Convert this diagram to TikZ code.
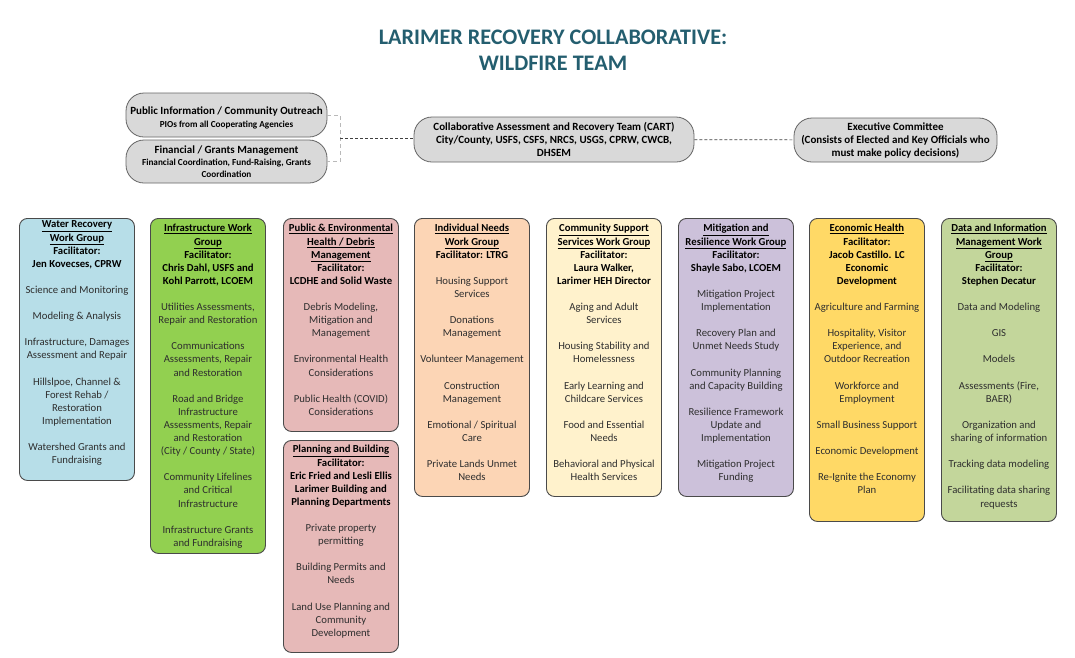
\documentclass[tikz,border=0pt]{standalone}
\usepackage{fontspec}
\setmainfont{Carlito}
\usetikzlibrary{positioning, calc}

\definecolor{titleteal}{HTML}{245E6F}
\definecolor{edgegrey}{HTML}{4A4A4A}
\definecolor{bodygrey}{HTML}{2E2E2E}
\definecolor{topfill}{HTML}{D9D9D9}
\definecolor{waterblue}{HTML}{B7DEE8}
\definecolor{infragreen}{HTML}{92D050}
\definecolor{healthpink}{HTML}{E6B9B8}
\definecolor{needspeach}{HTML}{FCD5B5}
\definecolor{supportcream}{HTML}{FFF2CC}
\definecolor{mitiglilac}{HTML}{CCC1DA}
\definecolor{econyellow}{HTML}{FFD966}
\definecolor{dataolive}{HTML}{C3D69B}

% box height, top offset of first line, contents
\newcommand{\grouptext}[3]{\parbox[t][#1][t]{115pt}{\centering\fontsize{10.7}{13.1}\selectfont\rule{0pt}{#2}#3}}
\newcommand{\lead}[1]{{\color{black}\bfseries #1}}

\begin{document}
\begin{tikzpicture}[x=1pt, y=-1pt, font=\fontsize{10.7}{13.1}\selectfont]
  % Styles
  \tikzset{
    topbox/.style={draw=edgegrey!85, line width=0.8pt, fill=topfill, rounded corners=18pt, align=center, inner sep=2pt, font=\fontsize{11}{13}\selectfont\bfseries},
    wgbox/.style={draw=edgegrey, line width=0.9pt, rounded corners=8pt, inner sep=0pt, anchor=north west, text=bodygrey},
    bracket/.style={draw=gray!55, line width=1pt, dash pattern=on 4pt off 3pt},
    link/.style={draw=black!75, line width=0.7pt, dash pattern=on 3pt off 2pt}
  }
  \useasboundingbox (0,0) rectangle (1075,657);

  % Title
  \node[font=\fontsize{22.2}{26}\selectfont\bfseries, text=titleteal, align=center] (title) at (553,50.5) {LARIMER RECOVERY COLLABORATIVE:\\WILDFIRE TEAM};

  % Top row
  \node[topbox, minimum width=201pt, minimum height=44pt] (pubinfo) at (226.5,115)
    {\rule{0pt}{13pt}Public Information / Community Outreach\\{\fontsize{9.2}{10}\selectfont PIOs from all Cooperating Agencies}};
  \node[topbox, minimum width=201pt, minimum height=43pt, font=\fontsize{11}{12.5}\selectfont\bfseries] (finance) at (226.5,161.5)
    {Financial / Grants Management\\{\fontsize{9.2}{10}\selectfont Financial Coordination, Fund-Raising, Grants}\\[-1pt]{\fontsize{9.2}{10}\selectfont Coordination}};
  \node[topbox, minimum width=280pt, minimum height=45pt] (cart) at (554,139.5)
    {Collaborative Assessment and Recovery Team (CART)\\City/County, USFS, CSFS, NRCS, USGS, CPRW, CWCB,\\DHSEM};
  \node[topbox, minimum width=203pt, minimum height=44pt] (exec) at (895.5,140)
    {Executive Committee\\(Consists of Elected and Key Officials who\\must make policy decisions)};

  % Connectors
  \draw[bracket] (pubinfo.east) -- ++(13,0) |- (finance.east);
  \coordinate (brk) at ($(pubinfo.east)!0.5!(finance.east) + (13,0)$);
  \draw[link] (brk) -- (brk -| cart.west);
  \draw[link] (cart) -- (exec);

  % Work groups
  \node[wgbox, fill=waterblue] (water) at (19,218) {\grouptext{262pt}{9.5pt}{%
    \lead{\underline{Water Recovery}\\\underline{Work Group}\\Facilitator:\\Jen Kovecses, CPRW}\\[13.1pt]
    Science and Monitoring\\[13.1pt]
    Modeling \& Analysis\\[13.1pt]
    Infrastructure, Damages\\Assessment and Repair\\[13.1pt]
    Hillslpoe, Channel \&\\Forest Rehab /\\Restoration\\Implementation\\[13.1pt]
    Watershed Grants and\\Fundraising}};

  \node[wgbox, fill=infragreen] (infra) at (150,218) {\grouptext{335pt}{13.5pt}{%
    \lead{\underline{Infrastructure Work}\\\underline{Group}\\Facilitator:\\Chris Dahl, USFS and\\Kohl Parrott, LCOEM}\\[13.1pt]
    Utilities Assessments,\\Repair and Restoration\\[13.1pt]
    Communications\\Assessments, Repair\\and Restoration\\[13.1pt]
    Road and Bridge\\Infrastructure\\Assessments, Repair\\and Restoration\\(City / County / State)\\[13.1pt]
    Community Lifelines\\and Critical\\Infrastructure\\[13.1pt]
    Infrastructure Grants\\and Fundraising}};

  \node[wgbox, fill=healthpink] (health) at (283,218) {\grouptext{213pt}{13.5pt}{%
    \lead{\underline{Public \& Environmental}\\\underline{Health / Debris}\\\underline{Management}\\Facilitator:\\LCDHE and Solid Waste}\\[13.1pt]
    Debris Modeling,\\Mitigation and\\Management\\[13.1pt]
    Environmental Health\\Considerations\\[13.1pt]
    Public Health (COVID)\\Considerations}};

  \node[wgbox, fill=healthpink] (planning) at (283,440) {\grouptext{212pt}{12.5pt}{%
    \lead{\underline{Planning and Building}\\Facilitator:\\Eric Fried and Lesli Ellis\\Larimer Building and\\Planning Departments}\\[13.1pt]
    Private property\\permitting\\[13.1pt]
    Building Permits and\\Needs\\[13.1pt]
    Land Use Planning and\\Community\\Development}};

  \node[wgbox, fill=needspeach] (needs) at (414,218) {\grouptext{278pt}{13.5pt}{%
    \lead{\underline{Individual Needs}\\\underline{Work Group}\\Facilitator: LTRG}\\[13.1pt]
    Housing Support\\Services\\[13.1pt]
    Donations\\Management\\[13.1pt]
    Volunteer Management\\[13.1pt]
    Construction\\Management\\[13.1pt]
    Emotional / Spiritual\\Care\\[13.1pt]
    Private Lands Unmet\\Needs}};

  \node[wgbox, fill=supportcream] (support) at (546,218) {\grouptext{278pt}{13.5pt}{%
    \lead{\underline{Community Support}\\\underline{Services Work Group}\\Facilitator:\\Laura Walker,\\Larimer HEH Director}\\[13.1pt]
    Aging and Adult\\Services\\[13.1pt]
    Housing Stability and\\Homelessness\\[13.1pt]
    Early Learning and\\Childcare Services\\[13.1pt]
    Food and Essential\\Needs\\[13.1pt]
    Behavioral and Physical\\Health Services}};

  \node[wgbox, fill=mitiglilac] (mitig) at (678,218) {\grouptext{278pt}{13.5pt}{%
    \lead{\underline{Mitigation and}\\\underline{Resilience Work Group}\\Facilitator:\\Shayle Sabo, LCOEM}\\[13.1pt]
    Mitigation Project\\Implementation\\[13.1pt]
    Recovery Plan and\\Unmet Needs Study\\[13.1pt]
    Community Planning\\and Capacity Building\\[13.1pt]
    Resilience Framework\\Update and\\Implementation\\[13.1pt]
    Mitigation Project\\Funding}};

  \node[wgbox, fill=econyellow] (econ) at (809,218) {\grouptext{303pt}{13.5pt}{%
    \lead{\underline{Economic Health}\\Facilitator:\\Jacob Castillo. LC\\Economic\\Development}\\[13.1pt]
    Agriculture and Farming\\[13.1pt]
    Hospitality, Visitor\\Experience, and\\Outdoor Recreation\\[13.1pt]
    Workforce and\\Employment\\[13.1pt]
    Small Business Support\\[13.1pt]
    Economic Development\\[13.1pt]
    Re-Ignite the Economy\\Plan}};

  \node[wgbox, fill=dataolive] (data) at (941,218) {\grouptext{303pt}{13.5pt}{%
    \lead{\underline{Data and Information}\\\underline{Management Work}\\\underline{Group}\\Facilitator:\\Stephen Decatur}\\[13.1pt]
    Data and Modeling\\[13.1pt]
    GIS\\[13.1pt]
    Models\\[13.1pt]
    Assessments (Fire,\\BAER)\\[13.1pt]
    Organization and\\sharing of information\\[13.1pt]
    Tracking data modeling\\[13.1pt]
    Facilitating data sharing\\requests}};

\end{tikzpicture}
\end{document}
